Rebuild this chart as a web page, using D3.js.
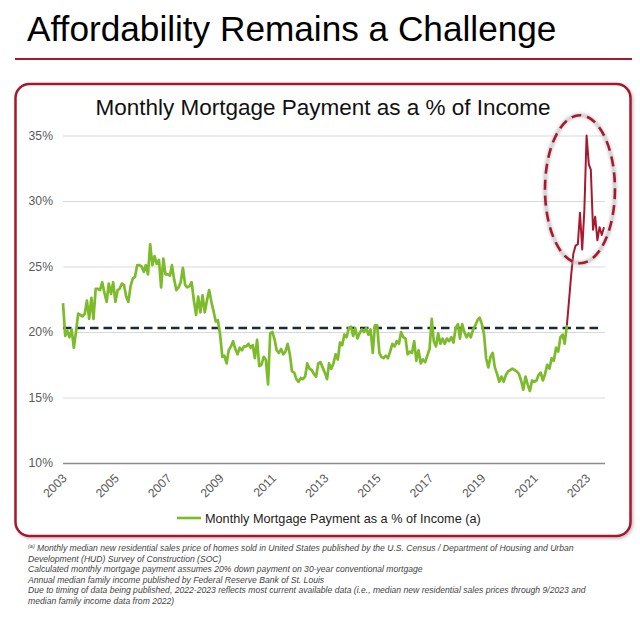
<!DOCTYPE html>
<html><head><meta charset="utf-8">
<script src="https://cdn.jsdelivr.net/npm/d3@7"></script>
<style>
html,body{margin:0;padding:0;background:#fff;}
svg{display:block;font-family:"Liberation Sans",Arial,sans-serif;}
</style></head>
<body>
<svg id="c" width="640" height="617"></svg>
<script>
// ---- data ----
const startMonth = "2003-01";
const greenValues = [
 22.2,19.7,20.1,19.6,20.2,18.8,20.0,21.4,21.3,21.2,21.4,22.4,
 21.0,22.6,21.0,23.3,23.3,23.2,23.8,23.0,22.3,23.7,22.9,23.8,
 22.3,23.2,23.3,23.7,23.6,22.7,22.3,23.5,24.1,24.2,25.1,25.1,
 25.0,24.6,25.1,24.4,26.7,25.1,25.8,25.2,25.5,23.4,25.6,24.4,
 24.4,24.3,25.1,24.0,23.2,23.4,23.8,24.9,23.6,23.4,23.5,23.8,
 22.4,21.3,22.7,21.5,22.8,21.5,22.4,23.2,22.3,21.6,20.8,20.9,
 19.8,18.1,18.2,17.6,18.6,18.9,19.3,18.7,18.3,18.8,18.6,18.9,
 18.9,19.1,18.8,19.0,18.0,19.4,17.4,17.5,18.1,17.9,16.0,19.9,
 20.0,19.4,18.6,18.4,18.7,18.3,18.5,19.1,18.3,17.0,16.9,16.4,
 16.2,16.5,16.4,16.6,17.6,17.2,17.1,16.8,16.6,17.6,17.7,17.3,
 16.9,16.4,17.6,17.2,17.6,18.3,17.9,19.2,19.0,19.8,19.6,20.3,
 20.4,19.7,20.3,19.5,19.9,20.2,20.0,20.3,19.8,20.2,18.4,20.5,
 20.5,18.4,18.1,18.0,18.2,18.0,18.5,19.1,18.9,19.3,19.1,20.0,
 19.6,19.5,18.3,18.5,18.4,19.3,17.8,18.6,17.6,17.9,17.7,18.2,
 18.7,21.0,19.3,18.9,19.9,19.1,19.5,19.1,19.5,19.3,19.6,19.2,
 20.3,20.6,19.5,20.6,20.0,19.6,19.9,19.6,20.2,20.5,20.9,21.1,
 20.6,19.8,18.0,17.3,18.1,18.4,17.3,16.8,16.2,16.6,16.2,16.7,
 17.0,17.1,17.2,17.1,17.0,16.8,16.3,15.6,16.6,16.0,15.5,16.3,
 16.2,16.3,16.7,16.9,16.3,16.8,17.5,17.2,18.0,17.8,18.8,18.5,
 19.6,19.8,19.1,20.5
];
// red segment starts at the last green month
const redValues = [20.5,22.4,24.4,26.0,26.6,26.7,29.1,26.3,29.3,35.0,32.8,32.4,27.8,28.8,27.0,28.0,27.4,28.0];
const averageLevel = 20.3;
const yTicks = [10,15,20,25,30,35];
const xTickYears = ["2003","2005","2007","2009","2011","2013","2015","2017","2019","2021","2023"];
const highlight = {month:"2022-10", value:30.9, rxMonths:16, ryValue:5.65};

const title = "Affordability Remains a Challenge";
const chartTitle = "Monthly Mortgage Payment as a % of Income";
const legendLabel = "Monthly Mortgage Payment as a % of Income (a)";
const footnotes = [
 ["(a)"," Monthly median new residential sales price of homes sold in United States published by the U.S. Census / Department of Housing and Urban"],
 [null,"Development (HUD) Survey of Construction (SOC)"],
 [null,"Calculated monthly mortgage payment assumes 20% down payment on 30-year conventional mortgage"],
 [null,"Annual median family income published by Federal Reserve Bank of St. Louis"],
 [null,"Due to timing of data being published, 2022-2023 reflects most current available data (i.e., median new residential sales prices through 9/2023 and"],
 [null,"median family income data from 2022)"]
];

// ---- colours ----
const RED = "#a6192e", GREEN = "#7cbb2a", NAVY = "#1c2b36";

const svg = d3.select("#c");
const parse = d3.timeParse("%Y-%m");
const start = parse(startMonth);
const greenData = greenValues.map((v,i)=>({d:d3.timeMonth.offset(start,i), v}));
const redStart = greenValues.length-1;
const redData = redValues.map((v,i)=>({d:d3.timeMonth.offset(start,redStart+i), v}));
const lastDate = redData[redData.length-1].d;

const x = d3.scaleTime().domain([start,lastDate]).range([63,604]);
const y = d3.scaleLinear().domain([10,35]).range([463,135.5]);

const defs = svg.append("defs");
const sh = defs.append("filter").attr("id","shadow").attr("x","-5%").attr("y","-5%").attr("width","110%").attr("height","110%");
sh.append("feDropShadow").attr("dx",1.5).attr("dy",1.5).attr("stdDeviation",1.5).attr("flood-color","#000").attr("flood-opacity",0.25);
defs.append("filter").attr("id","blur").append("feGaussianBlur").attr("stdDeviation",1.8);

// page title
svg.append("text").attr("x",27).attr("y",41).attr("font-size",35.2).attr("fill","#000")
  .text(title);
svg.append("line").attr("x1",15).attr("x2",632).attr("y1",59).attr("y2",59)
  .attr("stroke",RED).attr("stroke-width",2);

// box
svg.append("rect").attr("x",15.5).attr("y",84).attr("width",615).attr("height",452)
  .attr("rx",14).attr("fill","#fff").attr("stroke",RED).attr("stroke-width",2.5)
  .attr("filter","url(#shadow)");

// chart title
svg.append("text").attr("x",323).attr("y",115).attr("text-anchor","middle")
  .attr("font-size",22.5).attr("fill","#111").text(chartTitle);

// gridlines + y axis
const yAxis = d3.axisLeft(y).tickValues(yTicks).tickFormat(d=>d+"%").tickSize(-(605-63)).tickPadding(10);
const gy = svg.append("g").attr("transform","translate(63,0)").call(yAxis);
gy.select(".domain").remove();
gy.selectAll(".tick line").attr("stroke",d=>d===10?"#8c8c8c":"#d9d9d9").attr("stroke-width",d=>d===10?1.5:1);
gy.selectAll(".tick text").attr("font-size",12.2).attr("fill","#595959")
  .attr("font-family","'Liberation Sans',Arial,sans-serif");

// x axis labels
const xTickDates = xTickYears.map(s=>parse(s+"-01"));
const xAxis = d3.axisBottom(x).tickValues(xTickDates).tickFormat(d3.timeFormat("%Y")).tickSize(0);
const gx = svg.append("g").attr("transform","translate(0,463)").call(xAxis);
gx.select(".domain").remove();
gx.selectAll(".tick text").attr("font-size",12.2).attr("fill","#595959")
  .attr("font-family","'Liberation Sans',Arial,sans-serif")
  .attr("text-anchor","end").attr("dy",null).attr("y",0)
  .attr("transform","translate(4,16) rotate(-45)");

// average dashed line
svg.append("line").attr("x1",63).attr("x2",598).attr("y1",y(averageLevel)).attr("y2",y(averageLevel))
  .attr("stroke",NAVY).attr("stroke-width",2.6).attr("stroke-dasharray","8.5,5");

// lines
const line = d3.line().x(d=>x(d.d)).y(d=>y(d.v));
svg.append("path").datum(greenData).attr("d",line).attr("fill","none")
  .attr("stroke",GREEN).attr("stroke-width",2.7).attr("stroke-linejoin","round");
svg.append("path").datum(redData).attr("d",line).attr("fill","none")
  .attr("stroke",RED).attr("stroke-width",2).attr("stroke-linejoin","round");

// highlight ellipse
const hc = parse(highlight.month);
const cx = x(hc), cy = y(highlight.value);
const rx = x(d3.timeMonth.offset(hc, highlight.rxMonths)) - cx;
const ry = y(highlight.value - highlight.ryValue) - cy;
svg.append("ellipse").attr("cx",cx).attr("cy",cy).attr("rx",rx).attr("ry",ry)
  .attr("fill","none").attr("stroke","#b5b5b5").attr("stroke-width",4).attr("opacity",0.7).attr("filter","url(#blur)");
svg.append("ellipse").attr("cx",cx).attr("cy",cy).attr("rx",rx).attr("ry",ry)
  .attr("fill","none").attr("stroke",RED).attr("stroke-width",2.6).attr("stroke-dasharray","10,6");

// legend
svg.append("line").attr("x1",177).attr("x2",201).attr("y1",518).attr("y2",518)
  .attr("stroke",GREEN).attr("stroke-width",2.6);
svg.append("text").attr("x",205).attr("y",522.5).attr("font-size",12.7).attr("fill","#222")
  .text(legendLabel);

// footnotes
const fn = svg.append("g").attr("font-style","italic").attr("font-size",8.6).attr("fill","#444");
footnotes.forEach((f,i)=>{
  const t = fn.append("text").attr("x",28).attr("y",551+i*10.6);
  if(f[0]){ t.append("tspan").attr("font-size",5.5).attr("dy",-3).text(f[0]);
            t.append("tspan").attr("dy",3).text(f[1]); }
  else t.text(f[1]);
});
</script>
</body></html>
